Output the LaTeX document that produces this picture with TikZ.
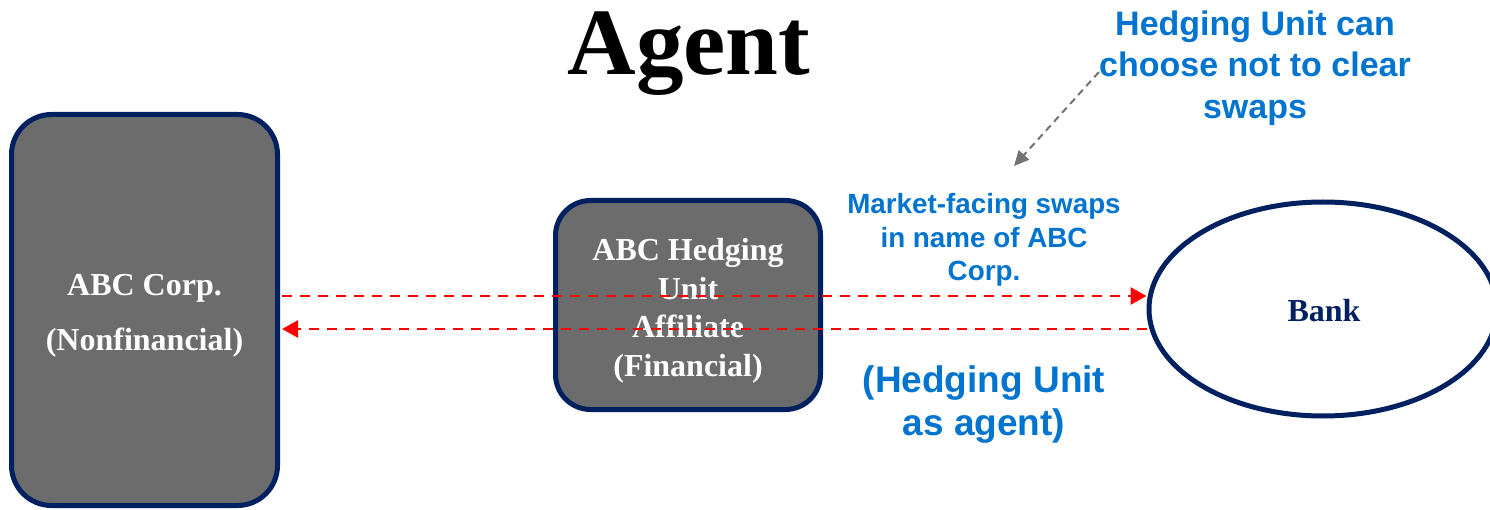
\documentclass[tikz,border=0pt]{standalone}
\usepackage{fontspec}
\setmainfont{Liberation Serif}
\newfontfamily\arialfont{Liberation Sans}
\usetikzlibrary{arrows.meta,shapes.geometric,calc}
\definecolor{navy}{RGB}{0,32,96}
\definecolor{boxgray}{RGB}{108,108,108}
\definecolor{noteblue}{RGB}{0,116,206}
\definecolor{arrowgray}{RGB}{115,115,115}
\tikzset{
  entitybox/.style={draw=navy, line width=5pt, fill=boxgray, rounded corners=40pt,
    text=white, font=\bfseries\fontsize{32}{38}\selectfont, align=center, inner sep=0pt},
  banknode/.style={draw=navy, line width=5pt, ellipse, fill=white, inner sep=0pt,
    text=navy, font=\bfseries\fontsize{32}{38}\selectfont},
  bluenote/.style={text=noteblue, align=center, inner sep=0pt},
  redarrow/.style={draw=red, line width=2.8pt, dash pattern=on 10pt off 8pt,
    -{Triangle[length=16pt,width=17pt]}},
  grayarrow/.style={draw=arrowgray, line width=2pt, dash pattern=on 7pt off 5pt,
    -{Triangle[length=15pt,width=14pt]}}
}
\begin{document}
\begin{tikzpicture}[x=1pt,y=-1pt]
\useasboundingbox (0,0) rectangle (1490,510);
% title
\node[anchor=base, inner sep=0pt, font=\bfseries\fontsize{95}{100}\selectfont] (title) at (689,75) {Agent};
% entities
\node[entitybox, minimum width=266pt, minimum height=391pt, font=\bfseries\fontsize{32}{55}\selectfont] (corp) at (144.5,310) {};
\node[text=white, font=\bfseries\fontsize{32}{55}\selectfont, align=center, inner sep=0pt] (corptext) at (144.5,316) {ABC Corp.\\(Nonfinancial)};
\node[entitybox, rounded corners=35pt, minimum width=265pt, minimum height=209pt] (hedge) at (688,305) {};
\node[text=white, font=\bfseries\fontsize{32}{38.5}\selectfont, align=center, inner sep=0pt] (hedgetext) at (688,311) {ABC Hedging\\Unit\\Affiliate\\(Financial)};
\node[banknode, minimum width=348pt, minimum height=214pt] (bank) at (1323,309) {};
\node[text=navy, font=\bfseries\fontsize{32}{38}\selectfont, inner sep=0pt] (banktext) at (1324,311) {Bank};
% notes
\node[bluenote, font=\arialfont\bfseries\fontsize{34}{41.5}\selectfont] (choose) at (1255,68) {Hedging Unit can\\choose not to clear\\swaps};
\node[bluenote, font=\arialfont\bfseries\fontsize{27.8}{33.5}\selectfont] (market) at (984,240) {Market-facing swaps\\in name of ABC\\Corp.};
\node[bluenote, font=\arialfont\bfseries\fontsize{37}{43}\selectfont] (agent) at (984,405) {(Hedging Unit\\as agent)};
% connectors
\coordinate (grayend) at (1014,166);
\draw[grayarrow] (choose.west |- 0,72) ++(0pt,0) -- (grayend);
\draw[redarrow] ([yshift=14pt,xshift=2pt]corp.east) -- ([yshift=14pt]corp.east -| bank.west);
\draw[redarrow] ([yshift=-19pt]corp.east -| bank.west) -- ([yshift=-19pt,xshift=2pt]corp.east);
\end{tikzpicture}
\end{document}
